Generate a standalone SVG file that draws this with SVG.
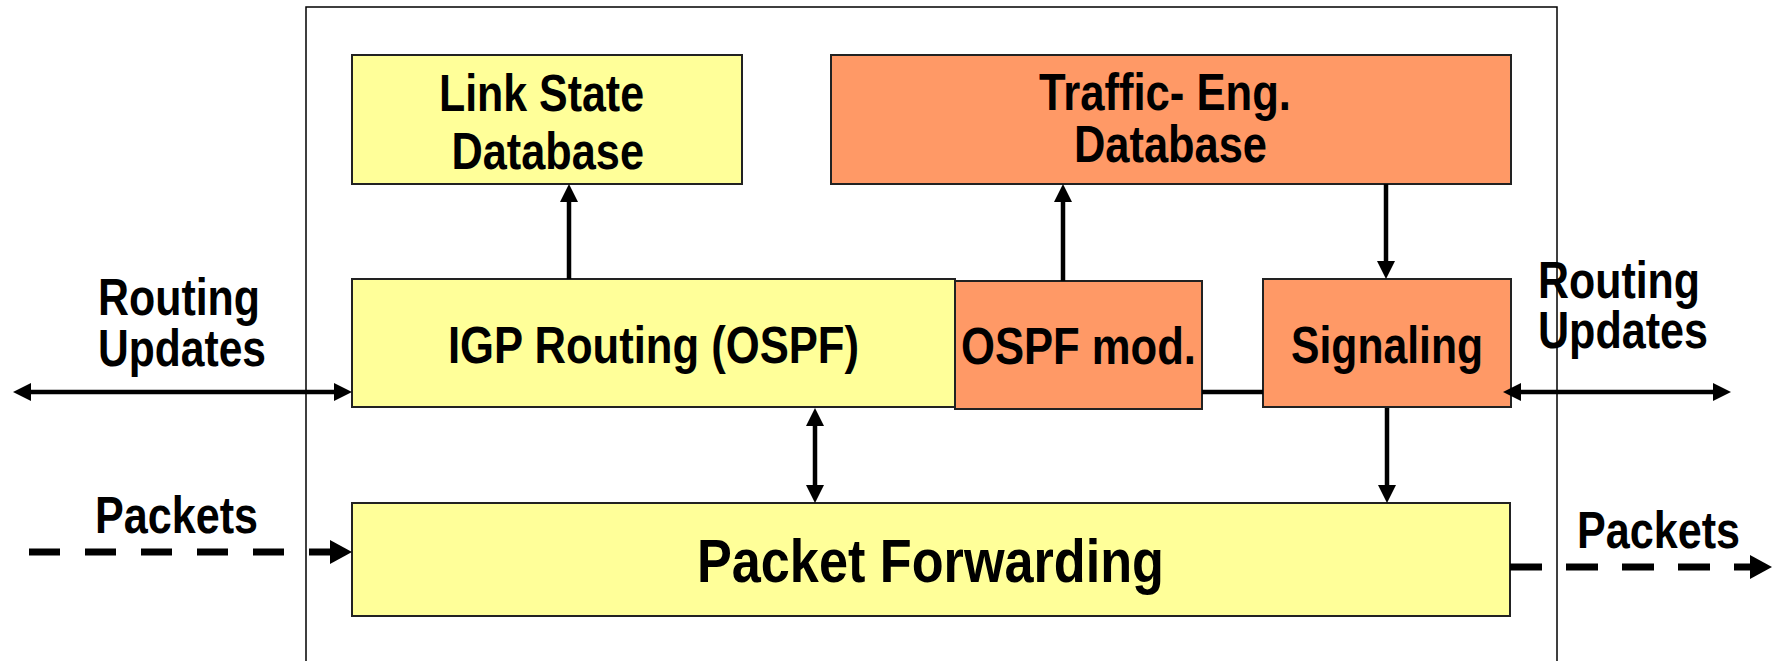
<svg xmlns="http://www.w3.org/2000/svg" width="1778" height="661" viewBox="0 0 1778 661">
<style>
.t{font-family:"Liberation Sans",Arial,sans-serif;font-weight:bold;font-size:52px;fill:#000}
.big{font-size:62px}
.y{fill:#FFFF99;stroke:#222;stroke-width:2}
.o{fill:#FF9966;stroke:#222;stroke-width:2}
.c{stroke:#000;stroke-width:4.5;fill:none}
.d{stroke:#000;stroke-width:7;fill:none}
</style>
<defs>
<marker id="ah" markerUnits="userSpaceOnUse" markerWidth="18" markerHeight="18" refX="8" refY="9" orient="auto-start-reverse" viewBox="0 0 18 18"><path d="M0,0 L18,9 L0,18 z" fill="#000"/></marker>
<marker id="ahd" markerUnits="userSpaceOnUse" markerWidth="22" markerHeight="24" refX="2" refY="12" orient="auto" viewBox="0 0 22 24"><path d="M0,0 L22,12 L0,24 z" fill="#000"/></marker>
</defs>
<rect x="0" y="0" width="1778" height="661" fill="#fff"/>
<rect id="frame" x="306" y="7" width="1251" height="700" fill="none" stroke="#000" stroke-width="1.5"/>
<g id="lsdb">
<rect class="y" x="352" y="55" width="390" height="129"/>
<text class="t" x="439" y="111" textLength="205" lengthAdjust="spacingAndGlyphs">Link State</text>
<text class="t" x="451.5" y="169" textLength="192.5" lengthAdjust="spacingAndGlyphs">Database</text>
</g>
<g id="tedb">
<rect class="o" x="831" y="55" width="680" height="129"/>
<text class="t" x="1039" y="110" textLength="252" lengthAdjust="spacingAndGlyphs">Traffic- Eng.</text>
<text class="t" x="1074" y="162" textLength="193" lengthAdjust="spacingAndGlyphs">Database</text>
</g>
<g id="igp">
<rect class="y" x="352" y="279" width="603" height="128"/>
<text class="t" x="448" y="363" textLength="411" lengthAdjust="spacingAndGlyphs">IGP Routing (OSPF)</text>
</g>
<g id="ospfmod">
<rect class="o" x="955" y="281" width="247" height="128" stroke="#000" stroke-width="3"/>
<text class="t" x="961" y="364" textLength="235" lengthAdjust="spacingAndGlyphs">OSPF mod.</text>
</g>
<g id="signaling">
<rect class="o" x="1263" y="279" width="248" height="128"/>
<text class="t" x="1291" y="363" textLength="192" lengthAdjust="spacingAndGlyphs">Signaling</text>
</g>
<g id="pf">
<rect class="y" x="352" y="503" width="1158" height="113"/>
<text class="t big" x="697" y="582" textLength="467" lengthAdjust="spacingAndGlyphs">Packet Forwarding</text>
</g>
<g id="labels">
<text class="t" x="98" y="315" textLength="162" lengthAdjust="spacingAndGlyphs">Routing</text>
<text class="t" x="98" y="366" textLength="168" lengthAdjust="spacingAndGlyphs">Updates</text>
<text class="t" x="1538" y="298" textLength="162" lengthAdjust="spacingAndGlyphs">Routing</text>
<text class="t" x="1538" y="348" textLength="170" lengthAdjust="spacingAndGlyphs">Updates</text>
<text class="t" x="95" y="533" textLength="163" lengthAdjust="spacingAndGlyphs">Packets</text>
<text class="t" x="1577" y="548" textLength="163" lengthAdjust="spacingAndGlyphs">Packets</text>
</g>
<g id="connectors">
<path class="c" d="M569,279 L569,194" marker-end="url(#ah)"/>
<path class="c" d="M1063,281 L1063,194" marker-end="url(#ah)"/>
<path class="c" d="M1386,184 L1386,269" marker-end="url(#ah)"/>
<path class="c" d="M1387,408 L1387,493" marker-end="url(#ah)"/>
<path class="c" d="M815,418 L815,493" marker-start="url(#ah)" marker-end="url(#ah)"/>
<path class="c" d="M23,392 L342,392" marker-start="url(#ah)" marker-end="url(#ah)"/>
<path class="c" d="M1513,392 L1721,392" marker-start="url(#ah)" marker-end="url(#ah)"/>
<path class="c" d="M1202,392 L1263,392" stroke-width="5"/>
<path class="d" d="M29,552 L332,552" stroke-dasharray="31 25" marker-end="url(#ahd)"/>
<path class="d" d="M1510,567 L1752,567" stroke-dasharray="32 24" marker-end="url(#ahd)"/>
</g>
</svg>
